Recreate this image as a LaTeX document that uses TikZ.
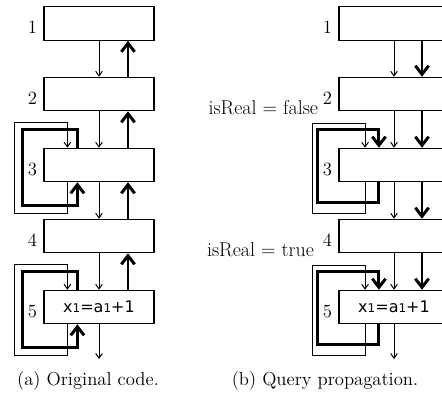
\documentclass[tikz,border=0pt]{standalone}
\usepackage{fontspec}
\newfontfamily\codefont{DejaVu Sans}
\usetikzlibrary{arrows.meta,positioning}
\newcommand{\smallone}{{\fontsize{9}{10}\selectfont 1}}

\begin{document}
\begin{tikzpicture}[x=0.75pt,y=-0.75pt,
  blk/.style={draw,line width=0.9pt,minimum width=82.5pt,minimum height=25pt,inner sep=0pt,
    font=\fontsize{12}{14}\selectfont\codefont},
  num/.style={font=\fontsize{14}{16}\selectfont,inner sep=2pt},
  thn/.style={line width=0.75pt,-{Straight Barb[length=3.5pt,width=5pt]}},
  thk/.style={line width=2.2pt,-{Straight Barb[length=6.5pt,width=10pt]}}]
  \useasboundingbox (0,0) rectangle (442,400);

  % (a) original code
  \node[blk] (a1) at (99,23.5) {};
  \node[blk] (a2) at (99,94) {};
  \node[blk] (a3) at (99,165) {};
  \node[blk] (a4) at (99,236) {};
  \node[blk] (a5) at (99,307) {x\smallone=a\smallone+1};
  \foreach \b/\t in {a1/1,a2/2,a3/3,a4/4,a5/5}
    \node[num,left=2.5pt of \b,yshift=-3pt] (n\b) {\t};
  \foreach \u/\l in {a1/a2,a2/a3,a3/a4,a4/a5}{
    \draw[thn] (\u.south) -- (\l.north);
    \draw[thk] ([xshift=21.75pt]\l.north) -- ([xshift=21.75pt]\u.south);
  }
  \foreach \b in {a3,a5}{
    \draw[thn] ([xshift=18pt]\b.south west) -- ++(0,31)
      -| ([xshift=-21.75pt,yshift=18.75pt]\b.north west) -| ([xshift=18pt]\b.north west);
    \draw[thk] ([xshift=25.5pt]\b.north west) -- ++(0,-18)
      -| ([xshift=-15.75pt,yshift=-17.25pt]\b.south west) -| ([xshift=25.5pt]\b.south west);
  }
  \coordinate (aend) at (99,359);
  \draw[thn] (a5.south) -- (aend);
  \node[num] (capa) at (88,381) {(a) Original code.};

  % (b) query propagation
  \node[blk] (b1) at (394,23.5) {};
  \node[blk] (b2) at (394,94) {};
  \node[blk] (b3) at (394,165) {};
  \node[blk] (b4) at (394,236) {};
  \node[blk] (b5) at (394,307) {x\smallone=a\smallone+1};
  \foreach \b/\t in {b1/1,b2/2,b3/3,b4/4,b5/5}
    \node[num,left=2.5pt of \b,yshift=-3pt] (n\b) {\t};
  \foreach \u/\l in {b1/b2,b2/b3,b3/b4,b4/b5}{
    \draw[thn] (\u.south) -- (\l.north);
    \draw[thk] ([xshift=21pt]\u.south) -- ([xshift=21pt]\l.north);
  }
  \foreach \b in {b3,b5}{
    \draw[thn] ([xshift=20pt]\b.south west) -- ++(0,31)
      -| ([xshift=-19.5pt,yshift=18.5pt]\b.north west) -| ([xshift=20pt]\b.north west);
    \draw[thk] ([xshift=30.4pt]\b.south west) -- ++(0,20)
      -| ([xshift=-15.75pt,yshift=13.5pt]\b.north west) -| ([xshift=30.4pt]\b.north west);
  }
  \coordinate (bend) at (394,359);
  \draw[thn] (b5.south) -- (bend);
  \node[num,anchor=east,font=\fontsize{15}{17}\selectfont] (rfalse) at (321,108) {isReal = false};
  \node[num,anchor=east,font=\fontsize{15}{17}\selectfont] (rtrue) at (317,250) {isReal = true};
  \node[num] (capb) at (325,381) {(b) Query propagation.};
\end{tikzpicture}
\end{document}
